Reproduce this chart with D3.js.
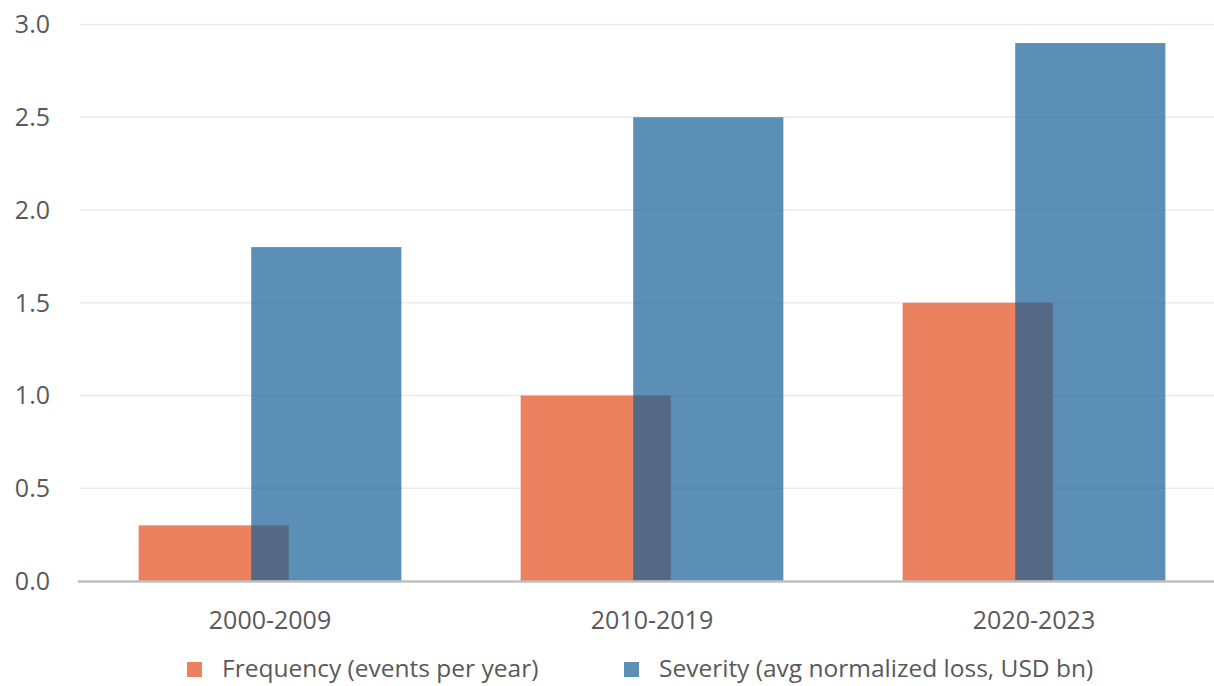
<!DOCTYPE html>
<html>
<head>
<meta charset="utf-8">
<script src="https://cdn.jsdelivr.net/npm/d3@7"></script>
<style>
  body { margin: 0; background: #fff; }
  text { font-family: "Open Sans", sans-serif; fill: #595959; }
</style>
</head>
<body>
<div id="chart"></div>
<script>
// Data
const periods = ["2000-2009", "2010-2019", "2020-2023"];
const frequency = [0.3, 1.0, 1.5];
const severity = [1.8, 2.5, 2.9];
const yTicks = [0, 0.5, 1, 1.5, 2, 2.5, 3];
const seriesNames = ["Frequency (events per year)", "Severity (avg normalized loss, USD bn)"];

const W = 1214, H = 686;
const svg = d3.select("#chart").append("svg")
    .attr("width", W)
    .attr("height", H);

// Scales
const x = d3.scaleBand()
    .domain(periods)
    .range([79, 1225]);
const y = d3.scaleLinear()
    .domain([0, 3])
    .range([581, 24.5]);

const bw = x.bandwidth() * 0.393;   // bar width
const step = bw * 0.75;             // offset between series (25% overlap)

// Gridlines
svg.append("g")
  .selectAll("line")
  .data(yTicks.filter(d => d > 0))
  .join("line")
    .attr("x1", 80).attr("x2", W)
    .attr("y1", d => y(d)).attr("y2", d => y(d))
    .attr("stroke", "#ebebeb")
    .attr("stroke-width", 1.5);

// Y axis labels
svg.append("g")
  .selectAll("text")
  .data(yTicks)
  .join("text")
    .attr("x", 50)
    .attr("y", d => y(d))
    .attr("dy", "0.35em")
    .attr("text-anchor", "end")
    .style("font-size", "25px")
    .text(d => d3.format(".1f")(d));

// Frequency bars
svg.append("g")
  .selectAll("rect")
  .data(periods)
  .join("rect")
    .attr("x", d => x(d) + x.bandwidth() / 2 - (bw + step) / 2)
    .attr("y", (d, i) => y(frequency[i]))
    .attr("width", bw)
    .attr("height", (d, i) => y(0) - y(frequency[i]))
    .attr("fill", "#ec8160");

// Severity bars (semi transparent, drawn on top)
svg.append("g")
  .selectAll("rect")
  .data(periods)
  .join("rect")
    .attr("x", d => x(d) + x.bandwidth() / 2 - (bw + step) / 2 + step)
    .attr("y", (d, i) => y(severity[i]))
    .attr("width", bw)
    .attr("height", (d, i) => y(0) - y(severity[i]))
    .attr("fill", "#155f95")
    .attr("fill-opacity", 0.7);

// X axis line
svg.append("line")
    .attr("x1", 78).attr("x2", W)
    .attr("y1", y(0) + 0.5).attr("y2", y(0) + 0.5)
    .attr("stroke", "#bfbfbf")
    .attr("stroke-width", 2.5);

// X axis labels
svg.append("g")
  .selectAll("text")
  .data(periods)
  .join("text")
    .attr("x", d => x(d) + x.bandwidth() / 2)
    .attr("y", 620)
    .attr("dy", "0.35em")
    .attr("text-anchor", "middle")
    .style("font-size", "25px")
    .text(d => d);

// Legend
const legend = svg.append("g");
const legendX = [187, 624];
const legendColors = ["#ec8160", "#5b8fb5"];
seriesNames.forEach((name, i) => {
  legend.append("rect")
    .attr("x", legendX[i])
    .attr("y", 662)
    .attr("width", 15)
    .attr("height", 15)
    .attr("fill", legendColors[i]);
  legend.append("text")
    .attr("x", legendX[i] + 35)
    .attr("y", 668)
    .attr("dy", "0.35em")
    .style("font-size", "24.5px")
    .text(name);
});
</script>
</body>
</html>
